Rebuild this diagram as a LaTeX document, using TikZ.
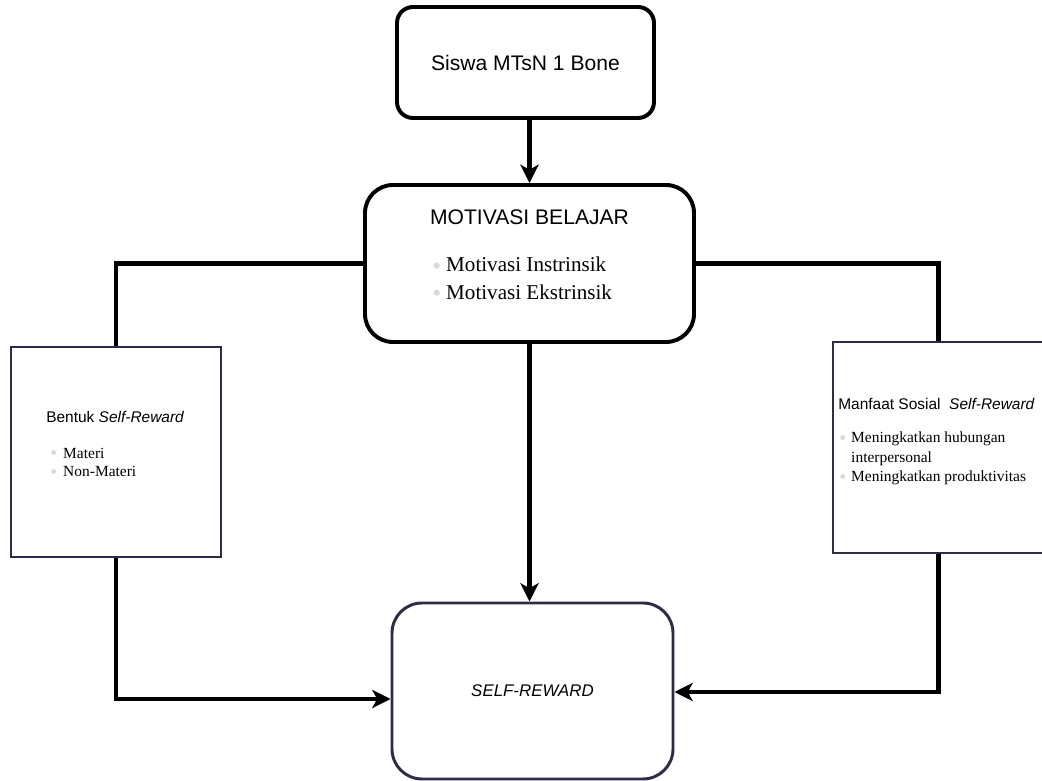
\documentclass[tikz,border=0pt]{standalone}
\usepackage{fontspec}
\setmainfont{Liberation Serif}
\setsansfont{Liberation Sans}
\usetikzlibrary{arrows.meta, positioning}
\usepackage{xcolor}
\definecolor{boxnavy}{RGB}{47,43,70}
\definecolor{dotgrey}{RGB}{217,217,217}
\newcommand{\pxl}[1]{#1*0.025cm}
% grey bullet: #1 = dot size, #2 = room before the text
\newcommand{\greydot}[2]{\makebox[#2][l]{\textcolor{dotgrey}{\raisebox{-.12em}{\fontsize{#1}{#1}\selectfont\textbullet}}}}

\begin{document}
\begin{tikzpicture}[x=0.025cm, y=-0.025cm,
        blackbox/.style={draw=black, line width=2.8pt, fill=white, font=\sffamily\fontsize{15}{18}\selectfont},
        navybox/.style={draw=boxnavy, line width=2.1pt, fill=white},
        link/.style={line width=3.5pt, -{Stealth[length=13pt, width=13pt, inset=3.5pt]}},
        wire/.style={line width=3.5pt},
        heading/.style={inner sep=0pt, font=\sffamily},
        items/.style={inner sep=0pt, anchor=base west}]
        \useasboundingbox (0,0) rectangle (1042,781);
        \node[blackbox, rounded corners=\pxl{16}, minimum width=\pxl{257}, minimum height=\pxl{111}] (siswa) at (525.5,62.5) {Siswa MTsN 1 Bone};
        \node[blackbox, rounded corners=\pxl{28}, minimum width=\pxl{329}, minimum height=\pxl{157}] (motivasi) at (529.5,263.5) {};
        \node[navybox, minimum width=\pxl{210}, minimum height=\pxl{210}] (bentuk) at (116,452) {};
        \node[navybox, minimum width=\pxl{211}, minimum height=\pxl{211}] (manfaat) at (938.5,447.5) {};
        \node[navybox, rounded corners=\pxl{30}, minimum width=\pxl{281}, minimum height=\pxl{176},
            font=\sffamily\itshape\fontsize{12}{14}\selectfont] (reward) at (532.5,691) {SELF-REWARD};

        % texts inside the boxes
        \node[heading, anchor=base, font=\sffamily\fontsize{15}{18}\selectfont] (motivtitle) at (529.5,225) {MOTIVASI BELAJAR};
        \node[items, font=\fontsize{15}{19.5}\selectfont] (motivlist) at (432,272)
            {\begin{tabular}[t]{@{}l@{}}\greydot{18}{9.9pt}Motivasi Instrinsik\\ \greydot{18}{9.9pt}Motivasi Ekstrinsik\end{tabular}};
        \node[heading, anchor=base west, font=\sffamily\fontsize{11}{13}\selectfont] (bentuktitle) at (46,423) {Bentuk \textit{Self-Reward}};
        \node[items, font=\fontsize{11}{13.5}\selectfont] (bentuklist) at (50,458)
            {\begin{tabular}[t]{@{}l@{}}\greydot{14}{9.2pt}Materi\\ \greydot{14}{9.2pt}Non-Materi\end{tabular}};
        \node[heading, anchor=base west, font=\sffamily\fontsize{11}{13}\selectfont] (manfaattitle) at (838,409) {Manfaat Sosial\ \ \textit{Self-Reward}};
        \node[items, font=\fontsize{11}{13.8}\selectfont] (manfaatlist) at (839,443)
            {\begin{tabular}[t]{@{}l@{}}\greydot{14}{8.5pt}Meningkatkan hubungan\\ \hspace*{8.5pt}interpersonal\\ \greydot{14}{8.5pt}Meningkatkan produktivitas\end{tabular}};

        % connectors
        \draw[link] (siswa.south -| motivasi.north) -- (motivasi.north);
        \draw[wire] (motivasi.west) -| (bentuk.north);
        \draw[wire] (motivasi.east) -| (manfaat.north);
        \draw[link] (motivasi.south) -- (motivasi.south |- reward.north);
        \draw[link] (bentuk.south) |- (reward.west |- 0,699);
        \draw[link] (manfaat.south) |- (reward.east |- 0,692);
\end{tikzpicture}
\end{document}
